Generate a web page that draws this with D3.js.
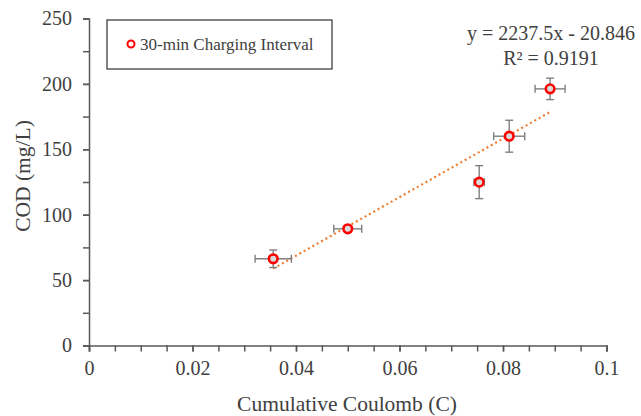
<!DOCTYPE html>
<html><head><meta charset="utf-8">
<script src="https://cdn.jsdelivr.net/npm/d3@7"></script>
<style>body{margin:0;background:#fff}svg{display:block}text{font-family:"Liberation Serif","Times New Roman",serif;fill:#404040}</style>
</head><body><svg id="c" width="641" height="416"></svg>
<script>
const coulomb = [0.0356, 0.0500, 0.0754, 0.0812, 0.0891];
const cod = [66.3, 89.2, 124.9, 160.0, 196.2];
const xErr = [0.0035, 0.0027, 0.0010, 0.0030, 0.0029];
const yErr = [6.7, 2.0, 12.6, 12.2, 8.2];
const xTicks = [0, 0.02, 0.04, 0.06, 0.08, 0.1];
const yTicks = [0, 50, 100, 150, 200, 250];
const slope = 2237.5, intercept = -20.846;
const seriesName = "30-min Charging Interval";
const eqText = "y = 2237.5x - 20.846";
const r2Text = "R² = 0.9191";

const svg = d3.select("#c");
const x = d3.scaleLinear().domain([0, 0.1]).range([89, 606.5]);
const y = d3.scaleLinear().domain([0, 250]).range([345.5, 18.5]);
const axisCol = "#595959";

// x axis
svg.append("g").attr("transform", `translate(0,${y(0)})`)
  .call(d3.axisBottom(x).tickValues(xTicks).tickFormat(d3.format("~g")).tickSize(6).tickPadding(9));
svg.append("g").attr("transform", `translate(0,${y(0)})`)
  .call(d3.axisBottom(x).tickValues(d3.range(0, 0.1001, 0.005)).tickFormat("").tickSize(6))
  .call(g => g.select(".domain").remove());
// y axis
svg.append("g").attr("transform", `translate(${x(0)},0)`)
  .call(d3.axisLeft(y).tickValues(yTicks).tickSize(6).tickPadding(11));
svg.append("g").attr("transform", `translate(${x(0)},0)`)
  .call(d3.axisLeft(y).tickValues(d3.range(0, 251, 25)).tickFormat("").tickSize(6))
  .call(g => g.select(".domain").remove());
svg.selectAll(".domain,.tick line").attr("stroke", axisCol).attr("stroke-width", 1.5);
svg.selectAll(".tick text").attr("font-size", 20).attr("fill", "#404040")
  .style("font-family", '"Liberation Serif",serif');

// axis titles
svg.append("text").attr("x", 347).attr("y", 411).attr("text-anchor", "middle")
  .attr("font-size", 21.5).text("Cumulative Coulomb (C)");
svg.append("text").attr("transform", "translate(30,176) rotate(-90)").attr("text-anchor", "middle")
  .attr("font-size", 21.5).text("COD (mg/L)");

// trendline
const x0 = d3.min(coulomb), x1 = d3.max(coulomb);
svg.append("line").attr("x1", x(x0)).attr("y1", y(slope * x0 + intercept))
  .attr("x2", x(x1)).attr("y2", y(slope * x1 + intercept))
  .attr("stroke", "#ED7D31").attr("stroke-width", 2.2).attr("stroke-dasharray", "2,3");

// error bars
const eb = svg.append("g").attr("stroke", "#7f7f7f").attr("stroke-width", 1.4);
coulomb.forEach((cx, i) => {
  const px = x(cx), py = y(cod[i]);
  const xl = x(cx - xErr[i]), xr = x(cx + xErr[i]);
  const yt = y(cod[i] + yErr[i]), yb = y(cod[i] - yErr[i]);
  eb.append("line").attr("x1", xl).attr("x2", xr).attr("y1", py).attr("y2", py);
  eb.append("line").attr("x1", xl).attr("x2", xl).attr("y1", py - 4).attr("y2", py + 4);
  eb.append("line").attr("x1", xr).attr("x2", xr).attr("y1", py - 4).attr("y2", py + 4);
  eb.append("line").attr("x1", px).attr("x2", px).attr("y1", yt).attr("y2", yb);
  eb.append("line").attr("x1", px - 4).attr("x2", px + 4).attr("y1", yt).attr("y2", yt);
  eb.append("line").attr("x1", px - 4).attr("x2", px + 4).attr("y1", yb).attr("y2", yb);
});

// markers
svg.append("g").selectAll("circle").data(coulomb).join("circle")
  .attr("cx", d => x(d)).attr("cy", (d, i) => y(cod[i])).attr("r", 4.3)
  .attr("fill", "#d9d9d9").attr("stroke", "#ff0000").attr("stroke-width", 2.6);

// legend
svg.append("rect").attr("x", 107).attr("y", 20).attr("width", 225).attr("height", 49)
  .attr("fill", "#fff").attr("stroke", "#404040").attr("stroke-width", 1.3);
svg.append("circle").attr("cx", 131).attr("cy", 44).attr("r", 3.5)
  .attr("fill", "#fff").attr("stroke", "#ff0000").attr("stroke-width", 2);
svg.append("text").attr("x", 140).attr("y", 50).attr("font-size", 17).attr("fill", "#303030").text(seriesName);

// equation
svg.append("text").attr("x", 551).attr("y", 40).attr("text-anchor", "middle").attr("font-size", 20).attr("fill", "#303030").text(eqText);
svg.append("text").attr("x", 551).attr("y", 65).attr("text-anchor", "middle").attr("font-size", 20).attr("fill", "#303030").text(r2Text);
</script></body></html>
